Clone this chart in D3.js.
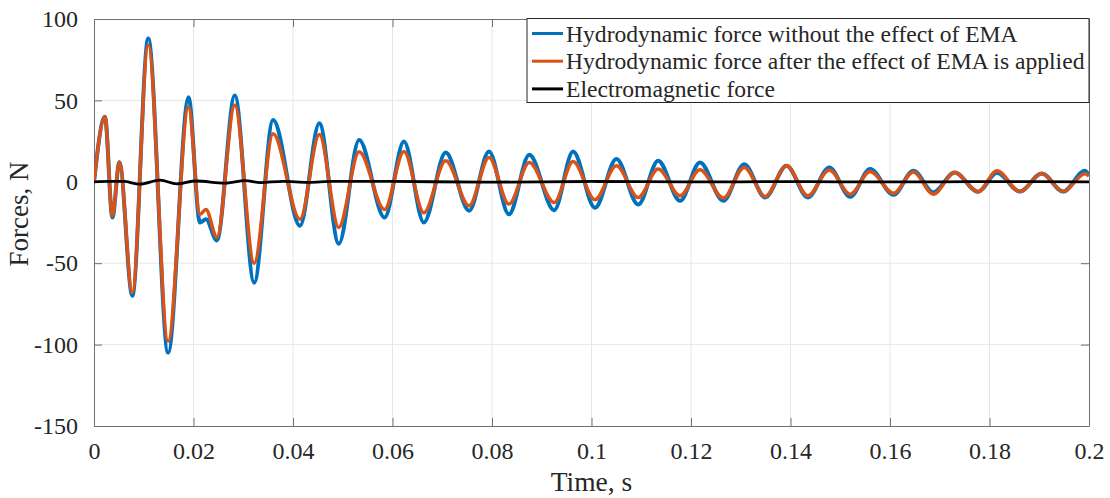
<!DOCTYPE html>
<html><head><meta charset="utf-8">
<script src="https://cdn.jsdelivr.net/npm/d3@7"></script>
<style>body{margin:0;background:#fff}svg{display:block}svg text{font-family:'Liberation Serif','Times New Roman',Times,serif !important;fill:#262626}</style>
</head><body><svg id="c" width="1110" height="498"></svg>
<script>
const xTicks = [0,0.02,0.04,0.06,0.08,0.1,0.12,0.14,0.16,0.18,0.2];
const xTickLabels = ["0","0.02","0.04","0.06","0.08","0.1","0.12","0.14","0.16","0.18","0.2"];
const yTicks = [-150,-100,-50,0,50,100];
const yTickLabels = ["-150","-100","-50","0","50","100"];
const seriesNames = ["Hydrodynamic force without the effect of EMA","Hydrodynamic force after the effect of EMA is applied","Electromagnetic force"];
const hydroTime = [0,0.0022,0.0037,0.0051,0.0077,0.0109,0.0149,0.019,0.0213,0.0225,0.0247,0.0283,0.0322,0.036,0.0414,0.0453,0.0492,0.0533,0.0584,0.0623,0.0663,0.0707,0.0754,0.0794,0.0834,0.0875,0.0925,0.0963,0.1007,0.105,0.1094,0.1134,0.1178,0.1218,0.1265,0.1307,0.1349,0.1392,0.1435,0.1478,0.152,0.156,0.1607,0.1647,0.1687,0.173,0.1777,0.1815,0.1861,0.1905,0.1948,0.1992,0.2];
const hydroNoEMA = [0,40,-22,12,-70,88,-105,52,-25,-23,-36,53,-62,38,-27,36,-38,25.6,-22,24.8,-25,18,-17.8,18.6,-20,16.6,-17.4,18.6,-16,14,-14,13,-11.7,11.9,-11.7,10.8,-9.6,9.8,-9.6,8.8,-9.2,7.8,-8,6.8,-6.5,5.7,-6.1,5.5,-6,5.1,-6,6.8,4];
const hydroEMA = [0,40,-21,12,-68,84,-98,46,-20,-17,-34,47,-50,29.5,-23,29,-28,18.4,-17,18.6,-19,12.9,-14.7,15,-13.7,11.9,-12.7,12.5,-11,9.8,-9.6,7.8,-8.6,7.4,-10,8.8,-9,9.8,-8.6,7.2,-7.6,6.3,-7,6,-7.6,5.7,-6.1,6.8,-6,5.1,-6,5,3.5];
const emTime = [0,0.003,0.006,0.0092,0.0133,0.0166,0.0205,0.0263,0.0304,0.0334,0.038,0.043,0.048,0.06,0.08,0.1,0.12,0.14,0.16,0.18,0.2];
const emForce = [0,0.3,0.2,-1.4,1.0,-1.3,0.5,-0.8,0.7,-0.5,0.3,-0.3,0.3,0.2,-0.2,0.2,-0.1,0.1,-0.1,0.1,0];
const colors = ["#0072BD","#D95319","#000000"];

const FONT = "'Liberation Serif','Times New Roman',Times,serif";
const svg = d3.select("#c");
const L=94,R=1089,T=19,B=426;
const x = d3.scaleLinear().domain([0,0.2]).range([L,R]);
const y = d3.scaleLinear().domain([-150,100]).range([B,T]);

// grid
const g = svg.append("g");
g.selectAll(".gx").data(xTicks.slice(1,-1)).enter().append("line")
 .attr("x1",d=>x(d)).attr("x2",d=>x(d)).attr("y1",T).attr("y2",B).attr("stroke","#e6e6e6").attr("stroke-width",1);
g.selectAll(".gy").data(yTicks.slice(1,-1)).enter().append("line")
 .attr("y1",d=>y(d)).attr("y2",d=>y(d)).attr("x1",L).attr("x2",R).attr("stroke","#e6e6e6").attr("stroke-width",1);

// axes
const xAxis = d3.axisBottom(x).tickValues(xTicks).tickFormat((d,i)=>xTickLabels[i]).tickSizeInner(-8).tickSizeOuter(0).tickPadding(16);
const yAxis = d3.axisLeft(y).tickValues(yTicks).tickFormat((d,i)=>yTickLabels[i]).tickSizeInner(-8).tickSizeOuter(0).tickPadding(16);
const xTop = d3.axisTop(x).tickValues(xTicks).tickFormat("").tickSizeInner(-8).tickSizeOuter(0);
const yRight = d3.axisRight(y).tickValues(yTicks).tickFormat("").tickSizeInner(-8).tickSizeOuter(0);
function style(sel){sel.attr("font-family",FONT);sel.selectAll("path").attr("stroke","#707070");sel.selectAll("line").attr("stroke","#707070");sel.selectAll("text").attr("font-size",24).attr("fill","#262626").style("font-family",FONT);}
svg.append("g").attr("transform",`translate(0,${B})`).call(xAxis).call(style);
svg.append("g").attr("transform",`translate(${L},0)`).call(yAxis).call(style);
svg.append("g").attr("transform",`translate(0,${T})`).call(xTop).call(style);
svg.append("g").attr("transform",`translate(${R},0)`).call(yRight).call(style);

// lines
svg.append("clipPath").attr("id","cp").append("rect").attr("x",L).attr("y",T).attr("width",R-L).attr("height",B-T);
const line = d3.line().x(d=>x(d[0])).y(d=>y(d[1])).curve(d3.curveMonotoneX);
const lg = svg.append("g").attr("clip-path","url(#cp)");
lg.append("path").attr("d",line(hydroTime.map((t,i)=>[t,hydroNoEMA[i]]))).attr("fill","none").attr("stroke",colors[0]).attr("stroke-width",4);
lg.append("path").attr("d",line(hydroTime.map((t,i)=>[t,hydroEMA[i]]))).attr("fill","none").attr("stroke",colors[1]).attr("stroke-width",3.5);
lg.append("path").attr("d",line(emTime.map((t,i)=>[t,emForce[i]]))).attr("fill","none").attr("stroke",colors[2]).attr("stroke-width",2.8);

// labels
svg.append("text").attr("x",(L+R)/2).attr("y",491).attr("text-anchor","middle").attr("font-size",27.5).style("font-family",FONT).text("Time, s");
svg.append("text").attr("transform",`translate(28,214) rotate(-90)`).attr("text-anchor","middle").attr("font-size",27).style("font-family",FONT).text("Forces, N");

// legend
const lx=527, ly=18.5, lw=R-lx, lh=84;
const leg = svg.append("g");
leg.append("rect").attr("x",lx).attr("y",ly).attr("width",lw).attr("height",lh).attr("fill","#fff").attr("stroke","#262626").attr("stroke-width",1);
seriesNames.forEach((n,i)=>{
  const cy = ly+15+i*27.7;
  leg.append("line").attr("x1",lx+5).attr("x2",lx+36).attr("y1",cy).attr("y2",cy).attr("stroke",colors[i]).attr("stroke-width",3);
  leg.append("text").attr("x",lx+39).attr("y",cy+8).attr("font-size",23.6).style("font-family",FONT).text(n);
});
</script></body></html>
